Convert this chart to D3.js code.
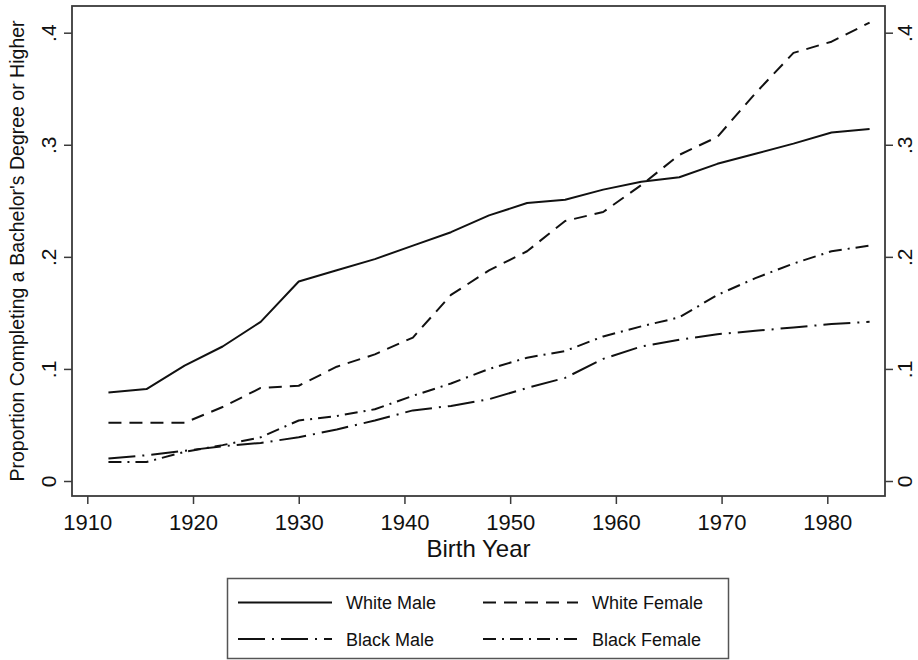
<!DOCTYPE html>
<html>
<head>
<meta charset="utf-8">
<script src="https://cdn.jsdelivr.net/npm/d3@7"></script>
<style>
  html, body { margin: 0; padding: 0; background: #fff; }
  svg { display: block; font-family: "Liberation Sans", Arial, Helvetica, sans-serif; }
</style>
</head>
<body>
<svg id="chart" width="918" height="660"></svg>
<script>
// ---- data ----
const years = [1912, 1915.6, 1919.2, 1922.8, 1926.4, 1930, 1933.6, 1937.2, 1940.8, 1944.4, 1948,
               1951.6, 1955.2, 1958.8, 1962.4, 1966, 1969.6, 1973.2, 1976.8, 1980.4, 1984];
const whiteMale   = [0.079, 0.082, 0.103, 0.120, 0.142, 0.178, 0.188, 0.198, 0.210, 0.222, 0.237,
                     0.248, 0.251, 0.260, 0.267, 0.271, 0.283, 0.292, 0.301, 0.311, 0.314];
const whiteFemale = [0.052, 0.052, 0.052, 0.066, 0.083, 0.085, 0.102, 0.113, 0.128, 0.166, 0.188,
                     0.205, 0.232, 0.240, 0.264, 0.291, 0.307, 0.346, 0.382, 0.392, 0.409];
const blackMale   = [0.020, 0.023, 0.027, 0.031, 0.034, 0.039, 0.046, 0.054, 0.063, 0.067, 0.073,
                     0.083, 0.092, 0.109, 0.120, 0.126, 0.131, 0.134, 0.137, 0.140, 0.142];
const blackFemale = [0.017, 0.017, 0.026, 0.032, 0.039, 0.054, 0.058, 0.064, 0.076, 0.087, 0.100,
                     0.110, 0.116, 0.129, 0.138, 0.146, 0.166, 0.181, 0.194, 0.205, 0.210];
const seriesNames = ["White Male", "White Female", "Black Male", "Black Female"];
const xTicks = [1910, 1920, 1930, 1940, 1950, 1960, 1970, 1980];
const yTicks = [0, 0.1, 0.2, 0.3, 0.4];
const yTickLabels = ["0", ".1", ".2", ".3", ".4"];
const xTitle = "Birth Year";
const yTitle = "Proportion Completing a Bachelor's Degree or Higher";

// ---- layout ----
const frame = { left: 72, right: 885, top: 6, bottom: 496 };
const svg = d3.select("#chart");

const x = d3.scaleLinear().domain([1910, 1980]).range([87.3, 827.3]);
const y = d3.scaleLinear().domain([0, 0.4]).range([481, 32.7]);

const dashes = ["none", "13,8", "27,7,2,7", "13,6,2,6"];
const seriesData = [whiteMale, whiteFemale, blackMale, blackFemale];

// frame
svg.append("rect")
  .attr("x", frame.left).attr("y", frame.top)
  .attr("width", frame.right - frame.left).attr("height", frame.bottom - frame.top)
  .attr("fill", "#fff").attr("stroke", "#3a3a3a").attr("stroke-width", 1.8);

// axes
function styleAxis(g) {
  g.select(".domain").remove();
  g.selectAll(".tick line").attr("stroke", "#3a3a3a").attr("stroke-width", 1.5);
  g.selectAll(".tick text").attr("fill", "#111");
}

const leftAxis = svg.append("g").attr("transform", `translate(${frame.left},0)`)
  .call(d3.axisLeft(y).tickValues(yTicks).tickSize(8)
    .tickFormat((d, i) => yTickLabels[i]));
styleAxis(leftAxis);
leftAxis.selectAll(".tick text")
  .attr("x", null).attr("dy", null).attr("y", null)
  .attr("text-anchor", "middle")
  .attr("font-size", 21)
  .attr("transform", "translate(-16,0) rotate(-90)");

const rightAxis = svg.append("g").attr("transform", `translate(${frame.right},0)`)
  .call(d3.axisRight(y).tickValues(yTicks).tickSize(8)
    .tickFormat((d, i) => yTickLabels[i]));
styleAxis(rightAxis);
rightAxis.selectAll(".tick text")
  .attr("x", null).attr("dy", null).attr("y", null)
  .attr("text-anchor", "middle")
  .attr("font-size", 21)
  .attr("transform", "translate(27,0) rotate(-90)");

const bottomAxis = svg.append("g").attr("transform", `translate(0,${frame.bottom})`)
  .call(d3.axisBottom(x).tickValues(xTicks).tickSize(8).tickFormat(d3.format("d")));
styleAxis(bottomAxis);
bottomAxis.selectAll(".tick text")
  .attr("y", 34).attr("dy", 0)
  .attr("font-size", 22);

// titles
svg.append("text")
  .attr("x", (frame.left + frame.right) / 2).attr("y", 557)
  .attr("text-anchor", "middle").attr("font-size", 24).attr("fill", "#111")
  .text(xTitle);

svg.append("text")
  .attr("transform", `translate(24,${(frame.top + frame.bottom) / 2}) rotate(-90)`)
  .attr("text-anchor", "middle").attr("font-size", 19.5).attr("fill", "#111")
  .text(yTitle);

// lines
const line = d3.line().x((d, i) => x(years[i])).y(d => y(d));
seriesData.forEach((s, k) => {
  svg.append("path")
    .datum(s)
    .attr("d", line)
    .attr("fill", "none")
    .attr("stroke", "#111")
    .attr("stroke-width", 2)
    .attr("stroke-linejoin", "round")
    .attr("stroke-dasharray", dashes[k]);
});

// legend
const legend = svg.append("g");
legend.append("rect")
  .attr("x", 227.5).attr("y", 578.5).attr("width", 501).attr("height", 80)
  .attr("fill", "#fff").attr("stroke", "#555").attr("stroke-width", 1.5);
const legCols = [{ x1: 238, x2: 332, tx: 346 }, { x1: 483, x2: 578, tx: 592 }];
const legRows = [602.5, 639];
seriesNames.forEach((name, k) => {
  const c = legCols[k % 2], r = legRows[Math.floor(k / 2)];
  legend.append("line")
    .attr("x1", c.x1).attr("x2", c.x2).attr("y1", r).attr("y2", r)
    .attr("stroke", "#111").attr("stroke-width", 2)
    .attr("stroke-dasharray", dashes[k]);
  legend.append("text")
    .attr("x", c.tx).attr("y", r + 6.5)
    .attr("font-size", 18).attr("fill", "#111")
    .text(name);
});
</script>
</body>
</html>
